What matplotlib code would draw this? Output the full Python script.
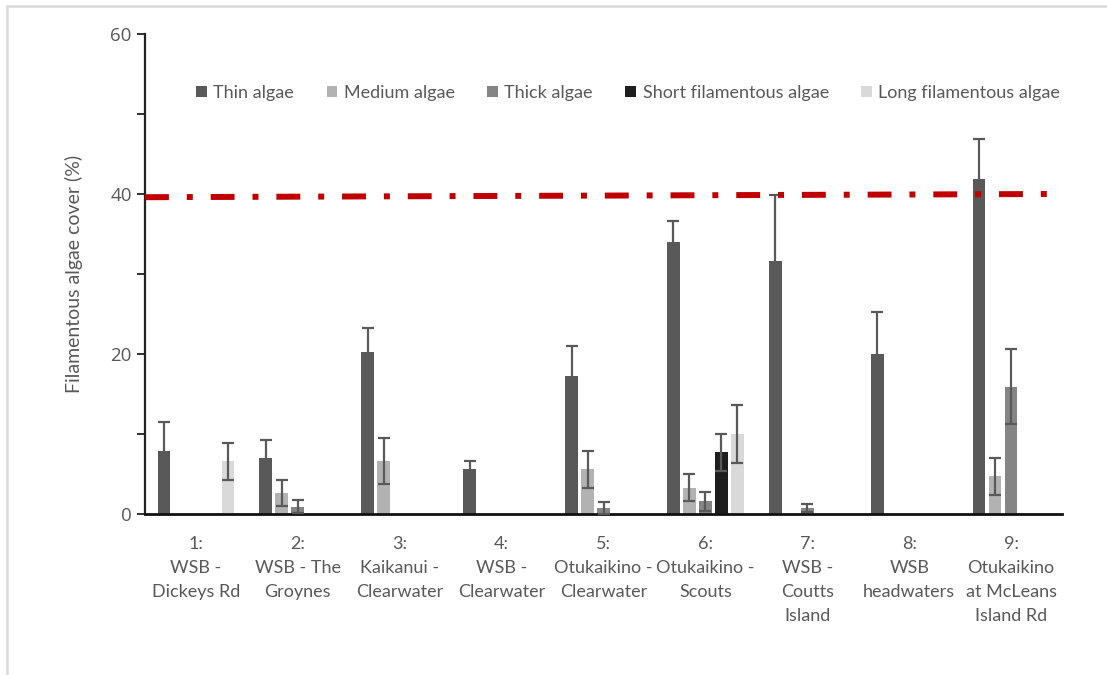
import matplotlib
matplotlib.use("Agg")
import matplotlib.pyplot as plt
import numpy as np
from matplotlib.ticker import MultipleLocator
from matplotlib.patches import Rectangle

sites = ["1:\nWSB -\nDickeys Rd", "2:\nWSB - The\nGroynes", "3:\nKaikanui -\nClearwater",
         "4:\nWSB -\nClearwater", "5:\nOtukaikino -\nClearwater", "6:\nOtukaikino -\nScouts",
         "7:\nWSB -\nCoutts\nIsland", "8:\nWSB\nheadwaters", "9:\nOtukaikino\nat McLeans\nIsland Rd"]

series_names = ["Thin algae", "Medium algae", "Thick algae", "Short filamentous algae", "Long filamentous algae"]
thin = [7.9, 7.0, 20.3, 5.6, 17.3, 34.0, 31.6, 20.0, 41.9]
thin_err = [3.6, 2.2, 2.9, 1.0, 3.7, 2.6, 8.3, 5.2, 5.0]
medium = [0, 2.6, 6.6, 0, 5.6, 3.3, 0, 0, 4.7]
medium_err = [0, 1.6, 2.9, 0, 2.3, 1.7, 0, 0, 2.3]
thick = [0, 0.9, 0, 0, 0.7, 1.6, 0.8, 0, 15.9]
thick_err = [0, 0.8, 0, 0, 0.75, 1.2, 0.5, 0, 4.7]
short_fil = [0, 0, 0, 0, 0, 7.7, 0, 0, 0]
short_fil_err = [0, 0, 0, 0, 0, 2.3, 0, 0, 0]
long_fil = [6.6, 0, 0, 0, 0, 10.0, 0, 0, 0]
long_fil_err = [2.3, 0, 0, 0, 0, 3.6, 0, 0, 0]

threshold_y = [39.6, 40.0]

colors = ["#595959", "#b2b2b2", "#858585", "#1e1e1e", "#d9d9d9"]
text_col = "#595959"
font = ["Lato", "DejaVu Sans"]
plt.rcParams['font.family'] = font

fig = plt.figure(figsize=(11.07, 6.75), dpi=100)
ax = fig.add_axes([145/1107, 1-514/675, (1062-145)/1107, (514-34)/675])

# outer frame
fig.patches.append(Rectangle((7/1107, -0.05), 1.2, 1-6/675+0.05, transform=fig.transFigure,
                             fill=False, edgecolor="#d9d9d9", linewidth=1.8))

x = np.arange(len(sites))
spacing = 0.157
width = 0.125
data = [(thin, thin_err), (medium, medium_err), (thick, thick_err),
        (short_fil, short_fil_err), (long_fil, long_fil_err)]
for k, ((vals, errs), name, c) in enumerate(zip(data, series_names, colors)):
    vals = np.array(vals, float)
    errs = np.array(errs, float)
    pos = x + (k - 2) * spacing
    ax.bar(pos, vals, width=width, color=c, label=name, zorder=2)
    m = vals > 0
    ax.errorbar(pos[m], vals[m], yerr=errs[m], fmt="none", ecolor="#595959",
                elinewidth=1.6, capsize=4, capthick=1.6, zorder=3)

# threshold line
ax.plot([-0.5, 8.38], threshold_y, color="#c00000", linewidth=4.3,
        dashes=(4, 3, 1, 3), solid_capstyle="butt", dash_capstyle="butt", zorder=4)

ax.set_xlim(-0.5, 8.5)
ax.set_ylim(0, 60)
ax.yaxis.set_major_locator(MultipleLocator(20))
ax.yaxis.set_minor_locator(MultipleLocator(10))
ax.set_xticks(x)
ax.set_xticklabels(sites, fontsize=13, color=text_col, linespacing=1.62)
ax.tick_params(axis="x", length=0, pad=16)
ax.tick_params(axis="y", which="both", direction="out", length=6, width=1.4, color="#333333")
for lab in ax.get_yticklabels():
    lab.set_fontfamily(["Open Sans", "DejaVu Sans"])
    lab.set_fontsize(13.5)
    lab.set_color(text_col)
ax.set_ylabel("Filamentous algae cover (%)", fontsize=14, color=text_col, labelpad=20)

for s in ["top", "right"]:
    ax.spines[s].set_visible(False)
ax.spines["left"].set_linewidth(1.6)
ax.spines["left"].set_color("#222222")
ax.spines["bottom"].set_linewidth(2.0)
ax.spines["bottom"].set_color("#111111")

leg = ax.legend(loc="center", bbox_to_anchor=(0.527, 0.877), ncol=5, frameon=False,
                fontsize=13, handlelength=0.6, handleheight=0.6, handletextpad=0.35,
                columnspacing=1.8, labelcolor=text_col)

fig.savefig("out.png", dpi=100)
